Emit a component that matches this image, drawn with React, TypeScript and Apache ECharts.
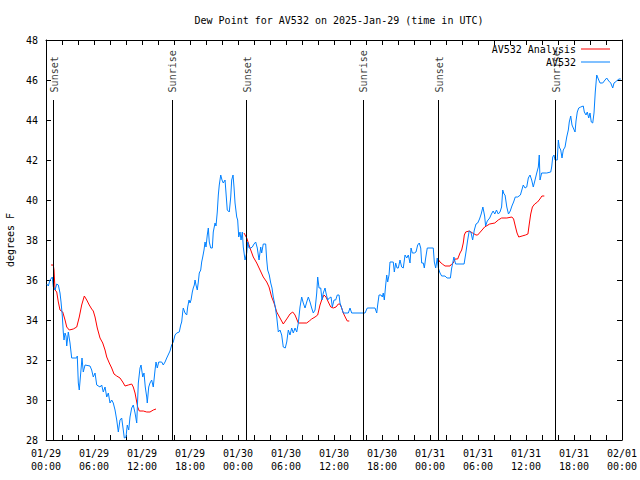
import React, { useEffect, useRef } from 'react';
import * as echarts from 'echarts';

const TITLE = 'Dew Point for AV532 on 2025-Jan-29 (time in UTC)';
const Y_NAME = 'degrees F';
const OBS_NAME = 'AV532';
const ANA_NAME = 'AV532 Analysis';

// tick labels every 6 hours from 2025-01-29 00:00 UTC
const xTickLabels = [
  '01/29\n00:00', '01/29\n06:00', '01/29\n12:00', '01/29\n18:00',
  '01/30\n00:00', '01/30\n06:00', '01/30\n12:00', '01/30\n18:00',
  '01/31\n00:00', '01/31\n06:00', '01/31\n12:00', '01/31\n18:00',
  '02/01\n00:00',
];

// sun events, hours since 01/29 00:00 UTC
const sunLabels = ['Sunset', 'Sunrise', 'Sunset', 'Sunrise', 'Sunset', 'Sunrise'];
const sunHours = [0.95, 15.72, 25.0, 39.6, 49.0, 63.7];

// observed dew point [hours, degF]
const observed: [number, number][] = [
  [0.1, 35.8], [0.29, 35.7], [0.5, 36.0], [0.79, 36.15], [0.91, 35.67], [1.13, 35.5], [1.34, 35.8],
  [1.54, 35.75], [1.75, 35.35], [1.88, 34.9], [2.04, 34.2], [2.16, 33.4], [2.25, 33.0], [2.38, 33.35],
  [2.5, 33.2], [2.59, 32.7], [2.79, 33.4], [3.0, 32.85], [3.21, 32.1], [3.84, 32.1], [3.91, 32.2],
  [4.04, 30.85], [4.16, 30.5], [4.34, 31.35], [4.5, 32.1], [4.66, 31.4], [4.88, 31.75], [5.5, 31.7],
  [5.71, 31.5], [5.91, 31.15], [6.13, 31.35], [6.34, 30.75], [6.75, 30.65], [6.96, 30.75], [7.16, 30.4],
  [7.38, 30.65], [7.59, 30.15], [7.79, 30.35], [8.0, 29.85], [8.21, 30.0], [8.41, 29.85], [8.63, 29.5],
  [8.84, 29.0], [9.04, 28.4], [9.25, 29.0], [9.46, 29.1], [9.66, 28.5], [9.79, 28.1], [10.0, 28.15],
  [10.16, 28.75], [10.34, 28.5], [10.5, 29.15], [10.71, 29.6], [10.91, 29.75], [11.13, 29.35],
  [11.34, 28.85], [11.54, 30.85], [11.75, 31.6], [11.88, 31.75], [12.09, 31.15], [12.25, 31.35],
  [12.41, 30.65], [12.59, 30.15], [12.66, 29.85], [12.84, 30.65], [13.0, 30.85], [13.21, 31.0],
  [13.41, 30.65], [13.63, 31.5], [13.75, 31.9], [13.91, 31.6], [14.09, 31.9], [14.46, 31.9],
  [14.66, 31.75], [14.88, 31.9], [15.09, 32.1], [15.5, 32.45], [15.71, 32.75], [15.91, 32.9],
  [16.13, 33.25], [16.34, 33.35], [16.66, 33.4], [16.84, 33.75], [16.96, 33.9], [17.09, 34.4],
  [17.16, 34.6], [17.38, 34.35], [17.59, 34.25], [17.71, 34.65], [17.88, 35.0], [18.0, 34.85],
  [18.13, 35.0], [18.29, 35.4], [18.41, 35.6], [18.54, 35.75], [18.63, 36.0], [18.75, 35.75],
  [18.91, 35.5], [19.04, 35.9], [19.16, 36.35], [19.34, 36.5], [19.46, 36.9], [19.59, 37.15],
  [19.75, 37.5], [19.88, 37.9], [20.0, 37.65], [20.16, 38.25], [20.29, 38.6], [20.41, 37.9],
  [20.59, 37.6], [20.79, 37.6], [20.91, 38.4], [21.13, 38.85], [21.25, 38.7], [21.41, 39.4],
  [21.54, 40.25], [21.66, 40.75], [21.84, 41.25], [22.0, 41.0], [22.16, 40.85], [22.38, 41.0],
  [22.5, 40.35], [22.66, 39.5], [22.91, 39.4], [23.09, 40.15], [23.21, 41.0], [23.38, 41.25],
  [23.5, 40.65], [23.63, 39.85], [23.84, 39.15], [23.96, 39.0], [24.09, 38.15], [24.25, 38.4],
  [24.38, 38.0], [24.54, 38.4], [24.66, 37.65], [24.88, 37.0], [25.09, 37.35], [25.21, 37.9],
  [25.38, 37.6], [25.59, 37.6], [25.79, 37.65], [26.0, 37.8], [26.21, 37.9], [26.41, 37.6],
  [26.63, 37.0], [26.84, 37.65], [26.96, 37.35], [27.16, 37.8], [27.46, 37.8], [27.59, 37.0],
  [27.71, 36.5], [27.91, 36.25], [28.09, 35.85], [28.25, 35.6], [28.41, 35.15], [28.54, 34.9],
  [28.66, 34.65], [28.84, 34.15], [29.04, 33.4], [29.25, 33.5], [29.46, 33.25], [29.66, 32.65],
  [29.91, 32.6], [30.09, 32.9], [30.29, 33.5], [30.5, 33.25], [30.71, 33.6], [30.91, 33.35],
  [31.13, 33.6], [31.34, 33.4], [31.54, 33.85], [31.75, 34.65], [31.96, 35.15], [32.16, 34.85],
  [32.38, 34.6], [32.59, 34.9], [32.79, 35.15], [33.0, 34.9], [33.21, 34.6], [33.41, 34.35],
  [33.63, 34.5], [33.84, 35.35], [33.96, 36.15], [34.13, 35.6], [34.34, 35.6], [34.5, 35.0],
  [34.66, 35.35], [34.88, 35.6], [35.0, 35.35], [35.21, 35.0], [35.41, 35.1], [35.63, 35.15],
  [35.79, 34.65], [36.0, 35.0], [36.21, 35.0], [36.41, 35.25], [36.63, 35.25], [36.75, 34.85],
  [36.96, 34.6], [37.16, 34.35], [37.79, 34.35], [38.0, 34.6], [38.21, 34.35], [39.88, 34.35],
  [40.16, 34.6], [41.13, 34.6], [41.34, 34.35], [41.46, 34.75], [41.63, 35.25], [41.88, 35.25],
  [42.04, 35.15], [42.16, 35.35], [42.29, 35.0], [42.46, 35.75], [42.59, 36.25], [42.71, 35.9],
  [42.88, 36.25], [43.0, 36.9], [43.41, 36.9], [43.54, 36.4], [43.71, 36.85], [43.88, 36.6],
  [44.04, 36.6], [44.25, 37.0], [44.46, 36.65], [44.66, 36.6], [44.88, 37.25], [45.09, 37.1],
  [45.29, 37.25], [45.5, 36.85], [45.63, 37.6], [45.79, 37.35], [46.04, 37.35], [46.25, 37.4],
  [46.46, 37.75], [46.66, 37.85], [46.84, 37.6], [46.96, 36.85], [47.16, 36.85], [47.29, 36.6],
  [47.46, 37.1], [47.66, 37.6], [48.41, 37.6], [48.54, 36.9], [48.71, 36.6], [48.91, 37.1],
  [49.04, 36.6], [49.25, 36.35], [49.46, 36.2], [49.88, 36.2], [50.13, 36.1], [50.55, 36.1],
  [50.69, 36.55], [50.99, 37.15], [51.2, 36.8], [52.26, 36.8], [52.48, 37.35], [52.69, 37.95],
  [52.9, 38.45], [53.11, 38.4], [53.33, 38.0], [53.54, 38.5], [53.75, 38.8], [53.96, 38.85],
  [54.19, 39.05], [54.4, 39.3], [54.61, 39.65], [54.83, 39.2], [54.95, 38.7], [55.16, 38.95],
  [55.46, 39.1], [55.68, 39.3], [55.89, 39.45], [56.1, 39.3], [56.31, 39.5], [56.53, 39.3],
  [56.75, 39.4], [56.95, 39.65], [57.09, 40.5], [57.25, 40.3], [57.38, 40.25], [57.6, 39.65],
  [57.81, 39.3], [58.03, 39.45], [58.24, 39.7], [58.45, 39.9], [58.66, 40.15], [58.96, 40.15],
  [59.3, 40.25], [59.66, 40.75], [59.88, 40.6], [60.09, 40.65], [60.29, 41.1], [60.5, 41.25],
  [60.71, 41.0], [60.91, 40.65], [61.13, 41.0], [61.34, 41.35], [61.54, 41.65], [61.66, 42.25],
  [61.75, 41.0], [61.96, 41.35], [62.59, 41.35], [63.09, 41.4], [63.21, 41.65], [63.34, 42.15],
  [63.5, 42.25], [63.63, 42.0], [63.91, 42.0], [64.04, 43.0], [64.16, 42.65], [64.34, 42.5],
  [64.5, 42.1], [64.66, 42.5], [64.88, 42.65], [65.09, 43.15], [65.29, 43.5], [65.41, 43.9],
  [65.59, 44.2], [65.75, 43.75], [65.91, 43.6], [66.13, 43.4], [66.25, 43.95], [66.41, 44.4],
  [66.59, 44.6], [66.84, 44.65], [67.16, 44.7], [67.29, 44.4], [67.5, 44.25], [67.66, 44.4],
  [67.84, 44.1], [68.0, 44.35], [68.16, 43.9], [68.34, 43.85], [68.5, 44.35], [68.66, 45.4],
  [68.84, 46.25], [69.04, 46.05], [69.25, 45.85], [69.59, 45.85], [69.88, 46.0], [70.09, 46.1],
  [70.34, 45.95], [70.59, 45.85], [70.84, 45.6], [71.0, 45.85], [71.34, 45.95], [71.59, 46.05],
  [71.84, 46.05],
];

// analysis dew point, three runs [hours, degF]
const analysisRun1: [number, number][] = [
  [0.63, 36.75], [0.91, 36.75], [1.0, 36.5], [1.13, 35.5], [1.34, 35.4], [1.54, 34.9], [1.75, 34.5],
  [2.09, 34.4], [2.38, 34.0], [2.59, 33.65], [2.91, 33.5], [3.41, 33.55], [3.84, 33.65], [4.16, 34.15],
  [4.46, 34.75], [4.79, 35.2], [5.09, 35.0], [5.41, 34.75], [5.71, 34.55], [5.91, 34.45], [6.13, 34.15],
  [6.41, 33.6], [6.75, 33.1], [7.09, 32.85], [7.38, 32.5], [7.59, 32.15], [7.91, 31.85], [8.21, 31.6],
  [8.5, 31.3], [8.84, 31.2], [9.25, 31.1], [9.59, 30.9], [9.88, 30.7], [10.29, 30.75], [10.71, 30.8],
  [10.91, 30.65], [11.13, 30.35], [11.34, 29.9], [11.46, 29.65], [11.66, 29.45], [12.16, 29.45],
  [12.59, 29.4], [13.0, 29.4], [13.41, 29.5], [13.75, 29.55],
];
const analysisRun2: [number, number][] = [
  [24.75, 38.35], [25.09, 38.1], [25.5, 37.6], [25.91, 37.15], [26.34, 36.85], [26.75, 36.5],
  [27.16, 36.15], [27.59, 35.9], [27.88, 35.65], [28.21, 35.15], [28.5, 34.85], [28.84, 34.4],
  [29.25, 34.1], [29.66, 33.8], [30.09, 34.05], [30.5, 34.3], [30.84, 34.4], [31.13, 34.25],
  [31.54, 33.85], [32.59, 33.85], [32.91, 33.95], [33.21, 34.05], [33.63, 34.15], [33.96, 34.25],
  [34.25, 34.75], [34.46, 35.0], [34.75, 35.25], [35.0, 35.15], [35.29, 34.9], [35.59, 34.65],
  [35.91, 34.6], [36.25, 34.65], [36.54, 34.8], [36.75, 34.8], [36.96, 34.6], [37.16, 34.35],
  [37.46, 34.1], [37.66, 33.95], [37.91, 33.95],
];
const analysisRun3: [number, number][] = [
  [48.91, 37.1], [49.25, 36.9], [49.54, 36.8], [49.88, 36.7], [50.5, 36.7], [50.71, 36.8],
  [50.91, 36.85], [51.13, 37.05], [51.46, 37.05], [51.75, 37.35], [51.96, 37.5], [52.16, 37.85],
  [52.29, 38.25], [52.46, 38.4], [52.9, 38.45], [53.33, 38.35], [53.75, 38.25], [53.96, 38.25],
  [54.4, 38.45], [54.83, 38.65], [55.46, 38.8], [56.1, 38.85], [56.53, 39.0], [56.95, 39.1],
  [57.6, 39.1], [58.24, 39.15], [58.45, 39.05], [58.66, 38.7], [58.88, 38.35], [59.09, 38.15],
  [59.51, 38.2], [59.94, 38.25], [60.24, 38.3], [60.41, 38.8], [60.59, 39.3], [60.8, 39.65],
  [61.09, 39.8], [61.44, 39.9], [61.74, 40.05], [61.99, 40.2], [62.29, 40.2],
];

export default function App() {
  const ref = useRef<HTMLDivElement>(null);
  useEffect(() => {
    if (!ref.current) return;
    const chart = echarts.init(ref.current, null, { renderer: 'svg' });
    const font = 'DejaVu Sans Mono';
    const txt = { fontFamily: font, fontSize: 10, color: '#000' };
    const black = { color: '#000', width: 1 };
    const xCommon = {
      type: 'value', min: 0, max: 72, interval: 6,
      axisLine: { show: true, onZero: false, lineStyle: black },
      axisTick: { show: true, inside: true, length: 5, lineStyle: black },
      minorTick: { show: true, splitNumber: 3, length: 5, lineStyle: black },
      splitLine: { show: false },
    };
    const yCommon = {
      type: 'value', min: 28, max: 48, interval: 2,
      axisLine: { show: true, onZero: false, lineStyle: black },
      axisTick: { show: true, inside: true, length: 5, lineStyle: black },
      splitLine: { show: false },
    };
    const anaStyle = {
      type: 'line', name: ANA_NAME, showSymbol: false, symbol: 'none', silent: true,
      color: '#ff0000', lineStyle: { color: '#ff0000', width: 1 }, z: 3,
    };
    chart.setOption({
      animation: false,
      title: {
        text: TITLE, left: 334, top: 10, textAlign: 'center',
        textStyle: { ...txt, fontWeight: 'normal' },
      },
      legend: {
        data: [{ name: ANA_NAME, icon: 'rect' }, { name: OBS_NAME, icon: 'rect' }],
        orient: 'vertical', right: 30, top: 42.5, align: 'right',
        itemWidth: 29, itemHeight: 1, itemGap: 0, padding: 0, selectedMode: false,
        textStyle: { ...txt, lineHeight: 13 },
      },
      grid: {
        left: 46, right: 18, top: 40, bottom: 40,
        containLabel: false, outerBoundsMode: 'none',
      },
      xAxis: [
        {
          ...xCommon, position: 'bottom',
          axisLabel: {
            ...txt, lineHeight: 13, margin: 7,
            formatter: (v: number) => xTickLabels[Math.round(v / 6)] ?? '',
          },
        },
        { ...xCommon, position: 'top', axisLabel: { show: false } },
      ],
      yAxis: [
        {
          ...yCommon, position: 'left',
          name: Y_NAME, nameLocation: 'middle', nameGap: 30, nameRotate: 90,
          nameTextStyle: txt,
          axisLabel: { ...txt, margin: 8 },
        },
        { ...yCommon, position: 'right', axisLabel: { show: false } },
      ],
      series: [
        {
          type: 'scatter', name: 'sun', silent: true, symbolSize: 0,
          data: sunHours.map((h) => [h, 45.38]),
          label: {
            show: true, position: [1, 0], rotate: 90, align: 'left', verticalAlign: 'middle',
            formatter: (p: any) => sunLabels[p.dataIndex], ...txt,
          },
          markLine: {
            silent: true, symbol: ['none', 'none'], label: { show: false },
            lineStyle: { color: '#000', width: 1, type: 'solid' },
            data: sunHours.map((h) => [{ coord: [h, 45] }, { coord: [h, 28] }]),
          },
          z: 2,
        },
        { ...anaStyle, data: analysisRun1 },
        { ...anaStyle, data: analysisRun2 },
        { ...anaStyle, data: analysisRun3 },
        {
          type: 'line', name: OBS_NAME, showSymbol: false, symbol: 'none', silent: true,
          color: '#0080ff', lineStyle: { color: '#0080ff', width: 1 }, data: observed, z: 4,
        },
      ],
    });
    return () => chart.dispose();
  }, []);
  return (
    <div
      ref={ref}
      style={{ position: 'absolute', left: 0, top: 0, width: 640, height: 480 }}
    />
  );
}
